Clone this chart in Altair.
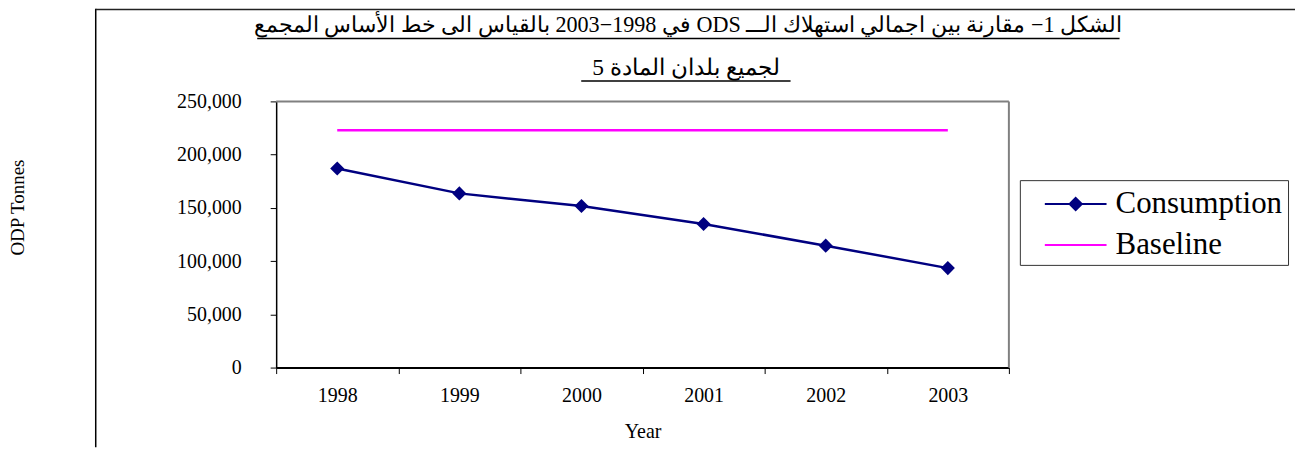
import altair as alt
import pandas as pd

# ---- data ----
years = ["1998", "1999", "2000", "2001", "2002", "2003"]
consumption = [187000, 163600, 151700, 134800, 114500, 93400]
baseline = [222800, 222800, 222800, 222800, 222800, 222800]
series_names = ["Consumption", "Baseline"]
series_colors = ["#000080", "#FF00FF"]
y_ticks = [0, 50000, 100000, 150000, 200000, 250000]
title_lines = [
    "\u202bالشكل 1− مقارنة بين اجمالي استهلاك الـــ ODS في 1998−2003 بالقياس الى خط الأساس المجمع\u202c",
    "\u202bلجميع بلدان المادة 5\u202c",
]
x_title = "Year"
y_title = "ODP Tonnes"

W, H = 735, 267
FONT = "Liberation Serif"

rows = []
for yr, c, b in zip(years, consumption, baseline):
    rows.append({"year": yr, "value": c, "series": "Consumption"})
    rows.append({"year": yr, "value": b, "series": "Baseline"})
df = pd.DataFrame(rows)

legend_paths = [
    "M-1.72,0L1.72,0M0,-0.34L0.34,0L0,0.34L-0.34,0Z",
    "M-1.72,0L1.72,0",
]

leg = alt.Legend(
    title=None,
    orient="none",
    legendX=746,
    legendY=79,
    padding=5,
    strokeColor="#333333",
    fillColor="white",
    labelFont=FONT,
    labelFontSize=31,
    labelColor="black",
    labelLimit=400,
    symbolSize=1296,
    symbolStrokeWidth=2,
    symbolOffset=32,
    labelOffset=21,
    rowPadding=7,
    symbolFillColor="#000080",
    symbolOpacity=1,
)

x_enc = alt.X(
    "year:O",
    scale=alt.Scale(type="band", domain=years, paddingInner=0, paddingOuter=0),
    axis=alt.Axis(
        title=x_title,
        labelAngle=0,
        tickBand="extent",
        tickSize=6,
        tickColor="black",
        tickWidth=1,
        domainColor="black",
        domainWidth=2,
        labelFont=FONT,
        labelFontSize=20,
        labelColor="black",
        labelPadding=12,
        titleFont=FONT,
        titleFontSize=20,
        titleFontWeight="normal",
        titleColor="black",
        titleBaseline="alphabetic",
        titleY=70,
    ),
)
y_enc = alt.Y(
    "value:Q",
    scale=alt.Scale(domain=[0, 250000], nice=False),
    axis=alt.Axis(
        title=y_title,
        values=y_ticks,
        format=",.0f",
        grid=False,
        tickSize=6,
        tickColor="black",
        tickWidth=1,
        domainColor="black",
        domainWidth=1.5,
        labelFont=FONT,
        labelFontSize=20,
        labelColor="black",
        labelPadding=29,
        titleFont=FONT,
        titleFontSize=19,
        titleFontWeight="normal",
        titleColor="black",
        titleAngle=270,
        titleBaseline="middle",
        titleX=-259,
        titleY=106,
    ),
)
color_enc = alt.Color(
    "series:N",
    scale=alt.Scale(domain=series_names, range=series_colors),
    legend=leg,
)

dummy = (
    alt.Chart(df)
    .transform_filter("false")
    .mark_point(filled=True, opacity=1)
    .encode(
        x=x_enc,
        y=y_enc,
        color=color_enc,
        shape=alt.Shape(
            "series:N",
            scale=alt.Scale(domain=series_names, range=legend_paths),
            legend=leg,
        ),
    )
)

lines = alt.Chart(df).mark_line(strokeWidth=2.5).encode(
    x=x_enc, y=y_enc, color=color_enc, detail="series:N"
)

points = (
    alt.Chart(df)
    .transform_filter(alt.datum.series == "Consumption")
    .mark_point(shape="diamond", filled=True, size=200, opacity=1)
    .encode(x=x_enc, y=y_enc, color=color_enc)
)

one = pd.DataFrame({"k": [0]})

# grey plot-area border (top and right)
border_top = alt.Chart(one).mark_rule(color="#808080", strokeWidth=2).encode(
    x=alt.value(0), x2=alt.value(W), y=alt.value(0)
)
border_right = alt.Chart(one).mark_rule(color="#808080", strokeWidth=2).encode(
    x=alt.value(W), y=alt.value(0), y2=alt.value(H)
)
# outer frame of the figure
frame_left = alt.Chart(one).mark_rule(color="black", strokeWidth=1.5).encode(
    x=alt.value(-181), y=alt.value(-93), y2=alt.value(H + 80)
)
frame_top = alt.Chart(one).mark_rule(color="#222222", strokeWidth=1.5).encode(
    x=alt.value(-181), x2=alt.value(1022), y=alt.value(-92.2)
)

# title (two underlined lines)
t1 = alt.Chart(pd.DataFrame({"t": [title_lines[0]]})).mark_text(
    font=FONT, fontSize=22.2, color="black", align="center", baseline="alphabetic", dir="rtl"
).encode(text="t:N", x=alt.value(413), y=alt.value(-70))
t2 = alt.Chart(pd.DataFrame({"t": [title_lines[1]]})).mark_text(
    font=FONT, fontSize=23.5, color="black", align="center", baseline="alphabetic", dir="rtl"
).encode(text="t:N", x=alt.value(411), y=alt.value(-26))
ul1 = alt.Chart(one).mark_rule(color="black", strokeWidth=1.5).encode(
    x=alt.value(-19), x2=alt.value(846), y=alt.value(-63)
)
ul2 = alt.Chart(one).mark_rule(color="black", strokeWidth=1.5).encode(
    x=alt.value(306), x2=alt.value(516), y=alt.value(-20.5)
)

chart = (
    alt.layer(dummy, lines, points, border_top, border_right, frame_left, frame_top,
              t1, t2, ul1, ul2)
    .properties(
        width=W,
        height=H,
        autosize=alt.AutoSizeParams(type="none"),
        padding={"left": 269, "top": 93, "right": 287, "bottom": 80},
        background="white",
    )
    .configure(font=FONT)
    .configure_view(stroke=None)
    .configure_legend(labelFont=FONT, labelFontSize=31, labelColor="black", labelLimit=400)
)

chart.save("out.html", embed_options={"renderer": "svg", "actions": False})
